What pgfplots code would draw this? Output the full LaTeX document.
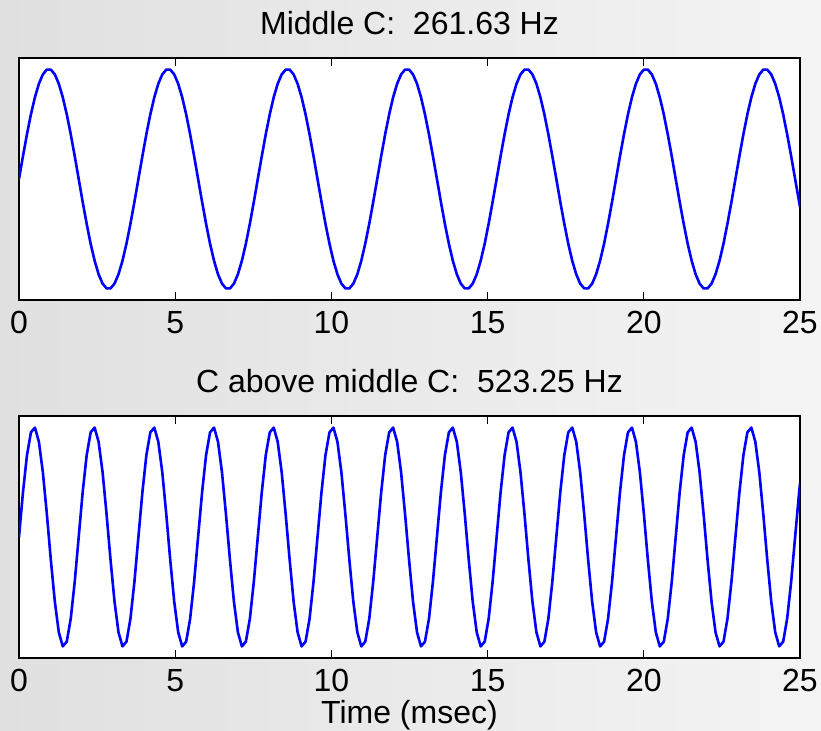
\documentclass[border=0pt]{standalone}
\usepackage{fontspec}
\setmainfont{Liberation Sans}
\usepackage{pgfplots}
\usepackage{pgfplotstable}
\pgfplotsset{compat=1.18}
\newcommand\fs{\fontsize{16}{18}\selectfont}
\pgfplotstableread{
t top bot
0.000 0 0
0.127 0.2079 0.4067
0.255 0.4067 0.7431
0.382 0.5878 0.9511
0.510 0.7431 0.9945
0.637 0.8660 0.8660
0.764 0.9511 0.5878
0.892 0.9945 0.2079
1.019 0.9945 -0.2079
1.147 0.9511 -0.5878
1.274 0.8660 -0.8660
1.401 0.7431 -0.9945
1.529 0.5878 -0.9511
1.656 0.4067 -0.7431
1.784 0.2079 -0.4067
1.911 0 0
2.038 -0.2079 0.4067
2.166 -0.4067 0.7431
2.293 -0.5878 0.9511
2.421 -0.7431 0.9945
2.548 -0.8660 0.8660
2.676 -0.9511 0.5878
2.803 -0.9945 0.2079
2.930 -0.9945 -0.2079
3.058 -0.9511 -0.5878
3.185 -0.8660 -0.8660
3.313 -0.7431 -0.9945
3.440 -0.5878 -0.9511
3.567 -0.4067 -0.7431
3.695 -0.2079 -0.4067
3.822 0 0
3.950 0.2079 0.4067
4.077 0.4067 0.7431
4.204 0.5878 0.9511
4.332 0.7431 0.9945
4.459 0.8660 0.8660
4.587 0.9511 0.5878
4.714 0.9945 0.2079
4.841 0.9945 -0.2079
4.969 0.9511 -0.5878
5.096 0.8660 -0.8660
5.224 0.7431 -0.9945
5.351 0.5878 -0.9511
5.478 0.4067 -0.7431
5.606 0.2079 -0.4067
5.733 0 0
5.861 -0.2079 0.4067
5.988 -0.4067 0.7431
6.115 -0.5878 0.9511
6.243 -0.7431 0.9945
6.370 -0.8660 0.8660
6.498 -0.9511 0.5878
6.625 -0.9945 0.2079
6.753 -0.9945 -0.2079
6.880 -0.9511 -0.5878
7.007 -0.8660 -0.8660
7.135 -0.7431 -0.9945
7.262 -0.5878 -0.9511
7.390 -0.4067 -0.7431
7.517 -0.2079 -0.4067
7.644 0 0
7.772 0.2079 0.4067
7.899 0.4067 0.7431
8.027 0.5878 0.9511
8.154 0.7431 0.9945
8.281 0.8660 0.8660
8.409 0.9511 0.5878
8.536 0.9945 0.2079
8.664 0.9945 -0.2079
8.791 0.9511 -0.5878
8.918 0.8660 -0.8660
9.046 0.7431 -0.9945
9.173 0.5878 -0.9511
9.301 0.4067 -0.7431
9.428 0.2079 -0.4067
9.555 0 0
9.683 -0.2079 0.4067
9.810 -0.4067 0.7431
9.938 -0.5878 0.9511
10.065 -0.7431 0.9945
10.193 -0.8660 0.8660
10.320 -0.9511 0.5878
10.447 -0.9945 0.2079
10.575 -0.9945 -0.2079
10.702 -0.9511 -0.5878
10.830 -0.8660 -0.8660
10.957 -0.7431 -0.9945
11.084 -0.5878 -0.9511
11.212 -0.4067 -0.7431
11.339 -0.2079 -0.4067
11.467 0 0
11.594 0.2079 0.4067
11.721 0.4067 0.7431
11.849 0.5878 0.9511
11.976 0.7431 0.9945
12.104 0.8660 0.8660
12.231 0.9511 0.5878
12.358 0.9945 0.2079
12.486 0.9945 -0.2079
12.613 0.9511 -0.5878
12.741 0.8660 -0.8660
12.868 0.7431 -0.9945
12.995 0.5878 -0.9511
13.123 0.4067 -0.7431
13.250 0.2079 -0.4067
13.378 0 0
13.505 -0.2079 0.4067
13.632 -0.4067 0.7431
13.760 -0.5878 0.9511
13.887 -0.7431 0.9945
14.015 -0.8660 0.8660
14.142 -0.9511 0.5878
14.270 -0.9945 0.2079
14.397 -0.9945 -0.2079
14.524 -0.9511 -0.5878
14.652 -0.8660 -0.8660
14.779 -0.7431 -0.9945
14.907 -0.5878 -0.9511
15.034 -0.4067 -0.7431
15.161 -0.2079 -0.4067
15.289 0 0
15.416 0.2079 0.4067
15.544 0.4067 0.7431
15.671 0.5878 0.9511
15.798 0.7431 0.9945
15.926 0.8660 0.8660
16.053 0.9511 0.5878
16.181 0.9945 0.2079
16.308 0.9945 -0.2079
16.435 0.9511 -0.5878
16.563 0.8660 -0.8660
16.690 0.7431 -0.9945
16.818 0.5878 -0.9511
16.945 0.4067 -0.7431
17.072 0.2079 -0.4067
17.200 0 0
17.327 -0.2079 0.4067
17.455 -0.4067 0.7431
17.582 -0.5878 0.9511
17.709 -0.7431 0.9945
17.837 -0.8660 0.8660
17.964 -0.9511 0.5878
18.092 -0.9945 0.2079
18.219 -0.9945 -0.2079
18.347 -0.9511 -0.5878
18.474 -0.8660 -0.8660
18.601 -0.7431 -0.9945
18.729 -0.5878 -0.9511
18.856 -0.4067 -0.7431
18.984 -0.2079 -0.4067
19.111 0 0
19.238 0.2079 0.4067
19.366 0.4067 0.7431
19.493 0.5878 0.9511
19.621 0.7431 0.9945
19.748 0.8660 0.8660
19.875 0.9511 0.5878
20.003 0.9945 0.2079
20.130 0.9945 -0.2079
20.258 0.9511 -0.5878
20.385 0.8660 -0.8660
20.512 0.7431 -0.9945
20.640 0.5878 -0.9511
20.767 0.4067 -0.7431
20.895 0.2079 -0.4067
21.022 0 0
21.149 -0.2079 0.4067
21.277 -0.4067 0.7431
21.404 -0.5878 0.9511
21.532 -0.7431 0.9945
21.659 -0.8660 0.8660
21.786 -0.9511 0.5878
21.914 -0.9945 0.2079
22.041 -0.9945 -0.2079
22.169 -0.9511 -0.5878
22.296 -0.8660 -0.8660
22.424 -0.7431 -0.9945
22.551 -0.5878 -0.9511
22.678 -0.4067 -0.7431
22.806 -0.2079 -0.4067
22.933 0 0
23.061 0.2079 0.4067
23.188 0.4067 0.7431
23.315 0.5878 0.9511
23.443 0.7431 0.9945
23.570 0.8660 0.8660
23.698 0.9511 0.5878
23.825 0.9945 0.2079
23.952 0.9945 -0.2079
24.080 0.9511 -0.5878
24.207 0.8660 -0.8660
24.335 0.7431 -0.9945
24.462 0.5878 -0.9511
24.589 0.4067 -0.7431
24.717 0.2079 -0.4067
24.844 0 0
24.972 -0.2079 0.4067
25.000 -0.2535 0.4886
}\wavedata
\definecolor{bgL}{RGB}{224,224,224}
\definecolor{bgR}{RGB}{244,244,244}
\pgfplotsset{
  wavestyle/.style={
    scale only axis, width=390.5pt, height=121pt,
    anchor=north west,
    xmin=0, xmax=25, ymin=-1.1, ymax=1.1,
    xtick={0,5,10,15,20,25}, ytick=\empty,
    tick align=inside, major tick length=4pt,
    axis line style={line width=0.6pt, black},
    tick style={line width=0.5pt, black},
    axis background/.style={fill=white},
    /pgf/number format/assume math mode=true,
    xticklabel style={font=\fs, inner sep=0pt, yshift=-5.5pt},
    title style={font=\fs, at={(axis description cs:0.5,1)}, anchor=base, inner sep=0pt},
    xlabel style={font=\fs, at={(axis description cs:0.5,0)}, anchor=base, inner sep=0pt, yshift=-32.5pt},
  },
  waveline/.style={blue, line width=1.3pt, no marks, line join=round},
}
\begin{document}
\begin{tikzpicture}
\useasboundingbox (0,0) rectangle (410.5pt,-365pt);
\shade[left color=bgL, right color=bgR] (0,0) rectangle (410.5pt,-365pt);
\begin{axis}[wavestyle, at={(9.5pt,-29pt)},
  title={Middle C:\ \ 261.63 Hz}, title style={yshift=6pt}]
\addplot[waveline] table[x=t, y=top] {\wavedata};
\end{axis}
\begin{axis}[wavestyle, at={(9.5pt,-208pt)},
  title={C above middle C:\ \ 523.25 Hz}, title style={yshift=6pt},
  xlabel={Time (msec)}]
\addplot[waveline] table[x=t, y=bot] {\wavedata};
\end{axis}
\end{tikzpicture}
\end{document}
